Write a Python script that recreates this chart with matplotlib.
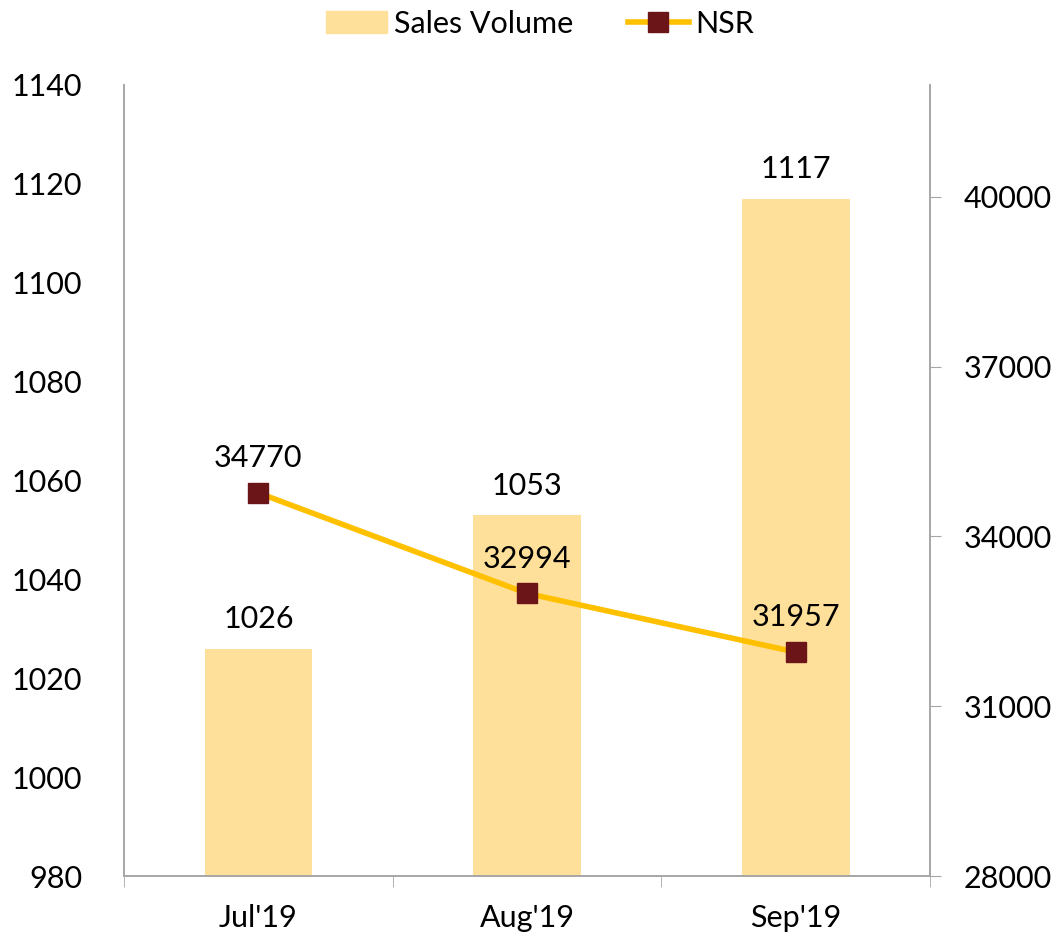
import matplotlib.pyplot as plt
from matplotlib.lines import Line2D
from matplotlib.patches import Patch

plt.rcParams['font.family'] = ['Lato', 'DejaVu Sans']

meses = ["Jul'19", "Aug'19", "Sep'19"]
volumen = [1026, 1053, 1117]
nsr = [34770, 32994, 31957]

gris = '#A6A6A6'
color_barra = '#FFE09A'
color_linea = '#FFC000'
color_marca = '#6B1518'
fs = 22

fig = plt.figure(figsize=(10.63, 9.43), dpi=100)
ax = fig.add_axes([0.1167, 0.071, 0.7583, 0.839])
ax2 = ax.twinx()

x = list(range(len(meses)))
ax.bar(x, volumen, width=0.4, color=color_barra, zorder=1)
for xi, v in zip(x, volumen):
    ax.annotate(str(v), (xi, v), xytext=(0, 11), textcoords='offset points',
                ha='center', va='bottom', fontsize=fs)

ax.set_ylim(980, 1140)
ax.set_yticks(range(980, 1141, 20))
ax.set_xlim(-0.5, 2.5)
ax.set_xticks(x)
ax.set_xticklabels(meses, fontsize=fs)
ax.set_xticks([-0.5, 0.5, 1.5, 2.5], minor=True)
ax.tick_params(axis='x', which='major', length=0, pad=20)
ax.tick_params(axis='x', which='minor', length=8, color=gris, direction='out')
ax.tick_params(axis='y', length=0, labelsize=fs, pad=30)

ax2.plot(x, nsr, color=color_linea, lw=4, marker='s', markersize=14,
         markerfacecolor=color_marca, markeredgecolor=color_marca, zorder=3)
for xi, v in zip(x, nsr):
    ax2.annotate(str(v), (xi, v), xytext=(0, 15), textcoords='offset points',
                 ha='center', va='bottom', fontsize=fs)
ax2.set_ylim(28000, 41980)
ax2.set_yticks(range(28000, 40001, 3000))
ax2.tick_params(axis='y', length=8, color=gris, labelsize=fs, pad=16)

for a in (ax, ax2):
    a.spines['top'].set_visible(False)
    for s in ('left', 'right', 'bottom'):
        a.spines[s].set_color(gris)
        a.spines[s].set_linewidth(1.2)

handles = [Patch(color=color_barra, label='Sales Volume'),
           Line2D([], [], color=color_linea, lw=4, marker='s', markersize=14,
                  markerfacecolor=color_marca, markeredgecolor=color_marca, label='NSR')]
fig.legend(handles=handles, loc='center', bbox_to_anchor=(0.508, 0.975), ncol=2,
           frameon=False, fontsize=fs, handlelength=2.0, columnspacing=1.8,
           handletextpad=0.2)

fig.savefig('out.png')
